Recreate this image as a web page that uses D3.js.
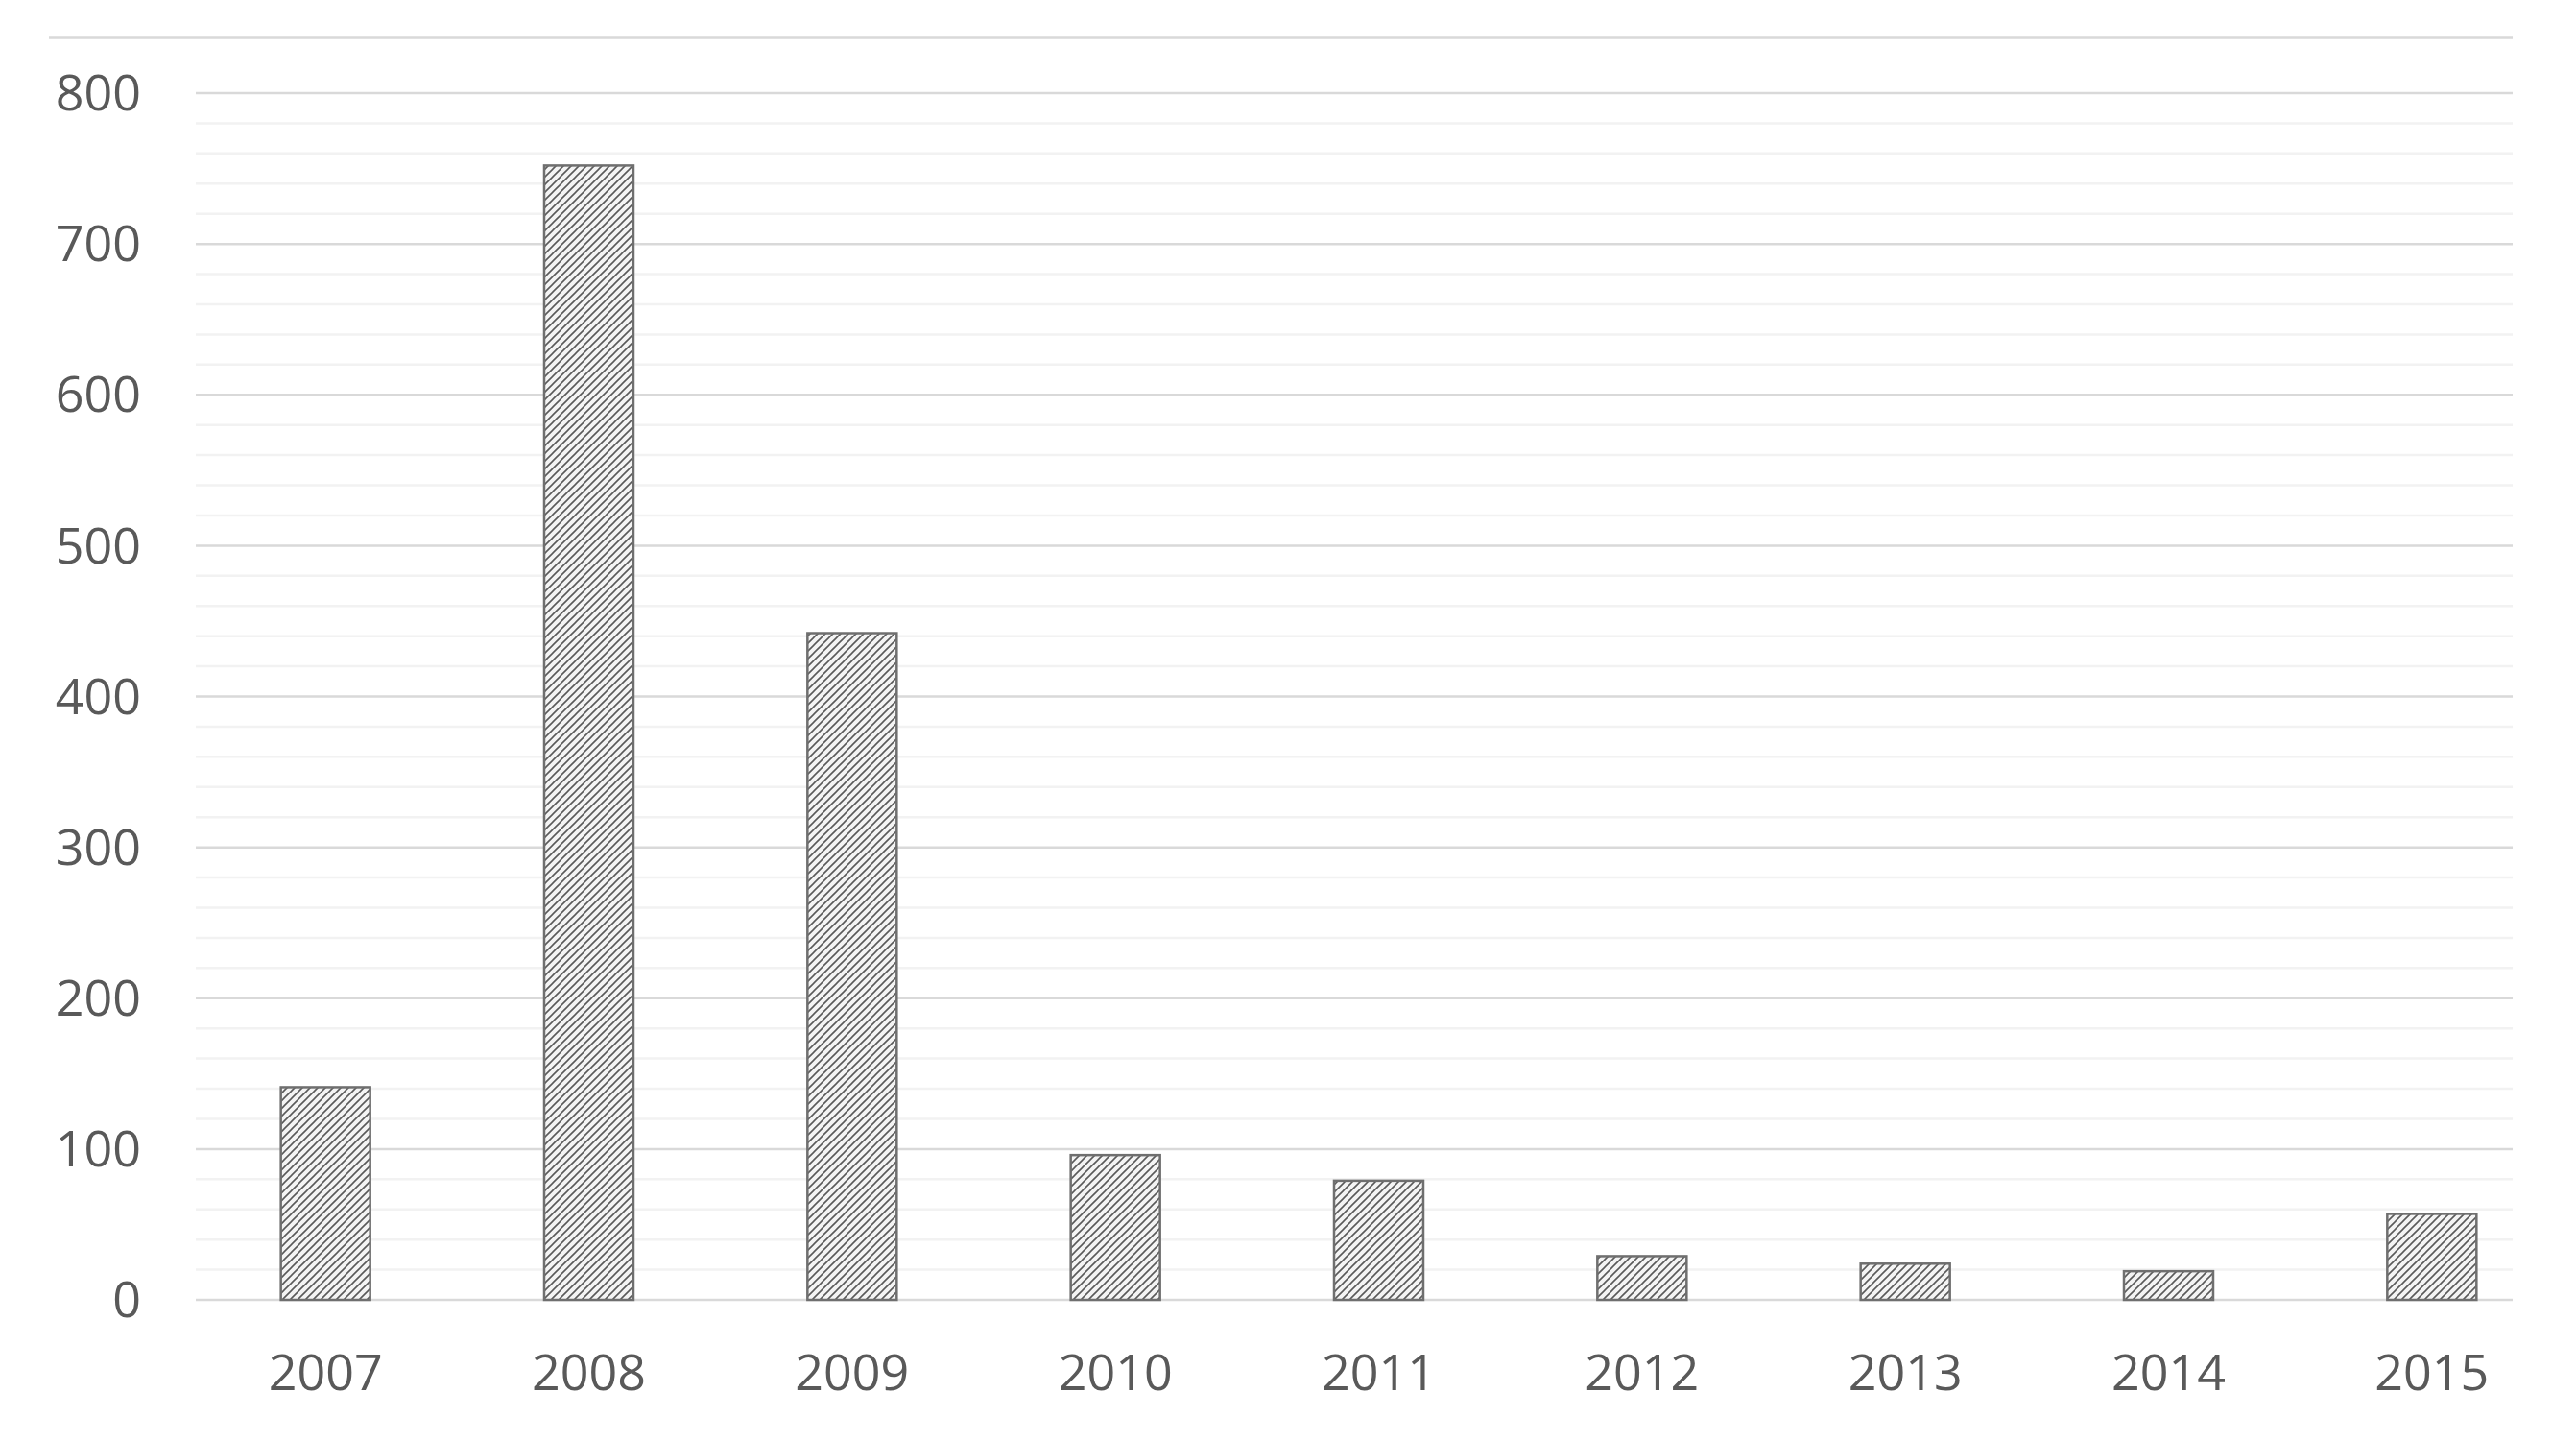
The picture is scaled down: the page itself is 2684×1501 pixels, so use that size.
<!DOCTYPE html>
<html>
<head>
<meta charset="utf-8">
<script src="https://cdn.jsdelivr.net/npm/d3@7"></script>
<style>
  html, body { margin: 0; padding: 0; background: #ffffff; }
  svg { display: block; }
  text { font-family: "Open Sans", "Noto Sans", sans-serif; fill: #595959; }
</style>
</head>
<body>
<svg id="chart"></svg>
<script>
// data
const years = ['2007', '2008', '2009', '2010', '2011', '2012', '2013', '2014', '2015'];
const counts = [141, 752, 442, 96, 79, 29, 24, 19, 57];
const yTicks = [0, 100, 200, 300, 400, 500, 600, 700, 800];

const width = 2684, height = 1501;

const colors = {
    text: '#595959',
    major: '#d9d9d9',
    minor: '#f2f2f2',
    barStroke: '#6f6f6f',
    hatch: '#5a5a5a'
}

const svg = d3.select('#chart').attr('width', width).attr('height', height)

// hatch pattern for the bars (upward diagonal)
const defs = svg.append('defs')
const pat = defs.append('pattern')
    .attr('id', 'hatch')
    .attr('patternUnits', 'userSpaceOnUse')
    .attr('width', 8).attr('height', 8)
pat.append('rect').attr('width', 8).attr('height', 8).attr('fill', '#f4f4f4')
pat.append('path')
    .attr('d', 'M-2,2 L2,-2 M0,8 L8,0 M6,10 L10,6')
    .attr('stroke', colors.hatch)
    .attr('stroke-width', 1.6)

const gridLeft = 204, gridRight = 2618
const y = d3.scaleLinear().domain([0, 800]).range([1354, 97])
const x = d3.scaleBand().domain(years).range([202, 2671])
    .paddingInner(0.661).paddingOuter(0.3305)

// top frame line
svg.append('line')
    .attr('x1', 51).attr('x2', gridRight)
    .attr('y1', 39.5).attr('y2', 39.5)
    .attr('stroke', colors.major).attr('stroke-width', 2.5)

// minor gridlines every 20
svg.append('g').attr('class', 'minor')
    .selectAll('line')
    .data(y.ticks(40).filter(d => d % 100 !== 0))
    .enter().append('line')
    .attr('x1', gridLeft).attr('x2', gridRight)
    .attr('y1', d => y(d)).attr('y2', d => y(d))
    .attr('stroke', colors.minor).attr('stroke-width', 2.5)

// major gridlines
svg.append('g').attr('class', 'major')
    .selectAll('line')
    .data(yTicks)
    .enter().append('line')
    .attr('x1', gridLeft).attr('x2', gridRight)
    .attr('y1', d => y(d)).attr('y2', d => y(d))
    .attr('stroke', colors.major).attr('stroke-width', 2.5)

// bars
svg.append('g').attr('class', 'bars')
    .selectAll('rect')
    .data(years.map((yr, i) => ({ year: yr, value: counts[i] })))
    .enter().append('rect')
    .attr('x', d => x(d.year))
    .attr('y', d => y(d.value))
    .attr('width', x.bandwidth())
    .attr('height', d => y(0) - y(d.value))
    .attr('fill', 'url(#hatch)')
    .attr('stroke', colors.barStroke)
    .attr('stroke-width', 2.5)

// y axis labels
const yAxis = svg.append('g')
    .attr('transform', 'translate(147,0)')
    .call(d3.axisLeft(y).tickValues(yTicks).tickSize(0).tickPadding(0))
yAxis.select('.domain').remove()
yAxis.selectAll('text')
    .attr('font-size', '52px')
    .attr('fill', colors.text)
    .attr('dy', '0.34em')

// x axis labels
const xAxis = svg.append('g')
    .attr('transform', 'translate(0,1354)')
    .call(d3.axisBottom(x).tickSize(0).tickPadding(0))
xAxis.select('.domain').remove()
xAxis.selectAll('text')
    .attr('font-size', '52px')
    .attr('fill', colors.text)
    .attr('dy', null)
    .attr('y', 94)
</script>
</body>
</html>
